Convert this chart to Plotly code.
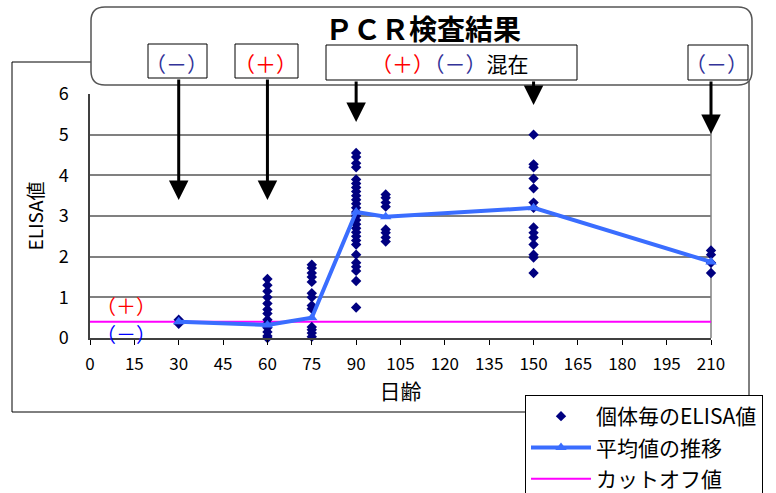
import plotly.graph_objects as go

# ---------------- data ----------------
days = [30, 60, 75, 90, 100, 150, 210]
elisa_d30 = [0.45, 0.35]
elisa_d60 = [1.45, 1.3, 1.15, 1.0, 0.85, 0.7, 0.6, 0.45, 0.35, 0.25, 0.15, 0.05, 0.0]
elisa_d75 = [1.8, 1.72, 1.6, 1.5, 1.38, 1.1, 1.0, 0.8, 0.72, 0.27, 0.2, 0.12, 0.03]
elisa_d90 = [4.55, 4.45, 4.3, 4.2, 3.9, 3.8, 3.7, 3.6, 3.5, 3.4, 3.3, 3.2, 3.1, 3.0, 2.9,
             2.8, 2.7, 2.6, 2.5, 2.4, 2.3, 2.05, 1.85, 1.75, 1.65, 1.4, 0.75]
elisa_d100 = [3.53, 3.45, 3.33, 3.23, 2.67, 2.59, 2.47, 2.37]
elisa_d150 = [5.0, 4.27, 4.2, 3.92, 3.68, 3.33, 3.2, 2.72, 2.59, 2.47, 2.3, 2.05, 1.98, 1.6]
elisa_d210 = [2.15, 2.05, 1.85, 1.6]
mean_values = [0.4, 0.32, 0.5, 3.1, 2.98, 3.2, 1.87]
cutoff_value = 0.4
x_ticks = list(range(0, 211, 15))
y_ticks = [0, 1, 2, 3, 4, 5, 6]

pcr_labels = ["（－）", "（＋）", "（＋）（－）混在", "（－）"]

FONT = "Noto Sans CJK JP"

# ---------------- geometry helpers (pixel -> paper) ----------------
W, H = 776, 493
L, R, T, B = 90, 65, 94, 155
PW, PH = W - L - R, H - T - B


def PX(px):
    return (px - L) / PW


def PY(py):
    return (H - B - py) / PH


per_day = [elisa_d30, elisa_d60, elisa_d75, elisa_d90, elisa_d100, elisa_d150, elisa_d210]
ind_x, ind_y = [], []
for d, vals in zip(days, per_day):
    ind_x += [d] * len(vals)
    ind_y += vals

fig = go.Figure()
fig.add_trace(go.Scatter(
    x=[0, 210], y=[cutoff_value, cutoff_value], mode="lines",
    line=dict(color="#FF00FF", width=2), name="カットオフ値",
    legendgroup="c", legendrank=3, cliponaxis=False))
fig.add_trace(go.Scatter(
    x=ind_x, y=ind_y, mode="markers",
    marker=dict(symbol="diamond", color="#000080", size=8),
    name="個体毎のELISA値", legendgroup="a", legendrank=1, cliponaxis=False))
fig.add_trace(go.Scatter(
    x=days, y=mean_values, mode="lines+markers",
    line=dict(color="#3A6DFF", width=4),
    marker=dict(symbol="triangle-up", color="#3A6DFF", size=10),
    name="平均値の推移", legendgroup="b", legendrank=2, cliponaxis=False))

shapes = []
# right border of plot area (grey)
shapes.append(dict(type="line", xref="paper", yref="paper", x0=1, x1=1, y0=0, y1=1,
                   line=dict(color="#808080", width=1.5), layer="below"))
# outer chart frame
shapes.append(dict(type="rect", xref="paper", yref="paper",
                   x0=PX(12), x1=PX(749), y0=PY(412), y1=PY(62),
                   line=dict(color="black", width=1), fillcolor="rgba(0,0,0,0)", layer="above"))
# rounded title box
x0, y0, x1, y1, r = 91, 7, 752, 85, 14
pts = [
    ("M", [(x0 + r, y0)]), ("L", [(x1 - r, y0)]), ("Q", [(x1, y0), (x1, y0 + r)]),
    ("L", [(x1, y1 - r)]), ("Q", [(x1, y1), (x1 - r, y1)]), ("L", [(x0 + r, y1)]),
    ("Q", [(x0, y1), (x0, y1 - r)]), ("L", [(x0, y0 + r)]), ("Q", [(x0, y0), (x0 + r, y0)]),
]
path = ""
for cmd, ps in pts:
    path += cmd + " " + " ".join(f"{PX(a):.5f},{PY(b):.5f}" for a, b in ps) + " "
path += "Z"
shapes.append(dict(type="path", xref="paper", yref="paper", path=path,
                   line=dict(color="#555555", width=1.5), fillcolor="white", layer="above"))
# small label boxes
boxes = [(148, 44, 207, 78), (235, 44, 298, 78), (326, 45, 577, 80), (688, 45, 748, 80)]
for bx0, by0, bx1, by1 in boxes:
    shapes.append(dict(type="rect", xref="paper", yref="paper",
                       x0=PX(bx0), x1=PX(bx1), y0=PY(by1), y1=PY(by0),
                       line=dict(color="black", width=1), fillcolor="white", layer="above"))

annotations = []
annotations.append(dict(xref="paper", yref="paper", x=PX(423), y=PY(28), text="<b>ＰＣＲ検査結果</b>",
                        xanchor="center", yanchor="middle",
                        showarrow=False, font=dict(family=FONT, size=28, color="black")))
BLUE_T = "#333399"
RED_T = "#FF0000"
label_html = [
    f"<span style='color:{BLUE_T}'>{pcr_labels[0]}</span>",
    f"<span style='color:{RED_T}'>{pcr_labels[1]}</span>",
    f"<span style='color:{RED_T}'>（＋）</span><span style='color:{BLUE_T}'>（－）</span>混在",
    f"<span style='color:{BLUE_T}'>{pcr_labels[3]}</span>",
]
label_cx = [176, 265, 450, 716]
for cx, t in zip(label_cx, label_html):
    annotations.append(dict(xref="paper", yref="paper", x=PX(cx), y=PY(63), text=t,
                            xanchor="center", yanchor="middle",
                            showarrow=False, font=dict(family=FONT, size=21, color="black")))
# arrows (tail at box bottom, head y in pixels)
arrow_days = [30, 60, 90, 150, 210]
arrow_tail = [78, 78, 80, 80, 80]
arrow_head = [200, 200, 122, 105, 134]
for d, ty, hy in zip(arrow_days, arrow_tail, arrow_head):
    annotations.append(dict(xref="x", yref="paper", x=d, y=PY(hy), ax=0, ay=-(hy - ty),
                            text="", showarrow=True, arrowhead=2, arrowsize=1.3,
                            arrowwidth=3, arrowcolor="black", standoff=0))
# (+)/(-) near cutoff
annotations.append(dict(xref="paper", yref="paper", x=PX(126), y=PY(305), text="（＋）",
                        xanchor="center", yanchor="middle",
                        showarrow=False, font=dict(family=FONT, size=20, color=RED_T)))
annotations.append(dict(xref="paper", yref="paper", x=PX(126), y=PY(333), text="（－）",
                        xanchor="center", yanchor="middle",
                        showarrow=False, font=dict(family=FONT, size=20, color="#0000FF")))

fig.update_layout(
    width=W, height=H,
    margin=dict(l=L, r=R, t=T, b=B, autoexpand=False),
    paper_bgcolor="white", plot_bgcolor="white",
    font=dict(family=FONT, size=17, color="black"),
    shapes=shapes, annotations=annotations,
    showlegend=True,
    legend=dict(x=PX(525), y=PY(395), xanchor="left", yanchor="top",
                bordercolor="black", borderwidth=1, bgcolor="white",
                font=dict(family=FONT, size=21, color="black"),
                tracegroupgap=1, itemwidth=60),
    xaxis=dict(range=[0, 210], tickvals=x_ticks, ticktext=[str(v) for v in x_ticks],
               ticks="outside", ticklen=5, tickcolor="black", ticklabelstandoff=5,
               showline=True, linecolor="#404040", linewidth=1.5, mirror=False,
               showgrid=False, zeroline=False,
               tickfont=dict(family=FONT, size=17),
               title=dict(text="日齢", font=dict(family=FONT, size=21), standoff=8)),
    yaxis=dict(range=[0, 6], tickvals=y_ticks, ticks="", ticklabelstandoff=16,
               showline=True, linecolor="#404040", linewidth=1.5, mirror=False,
               showgrid=True, gridcolor="#808080", gridwidth=1.5, zeroline=False,
               tickfont=dict(family=FONT, size=18),
               title=dict(text="ELISA値", font=dict(family=FONT, size=19), standoff=10)),
)

fig.write_html("out.html", config={"displayModeBar": False},
               post_script="document.body.style.margin='0';document.body.style.padding='0';")
